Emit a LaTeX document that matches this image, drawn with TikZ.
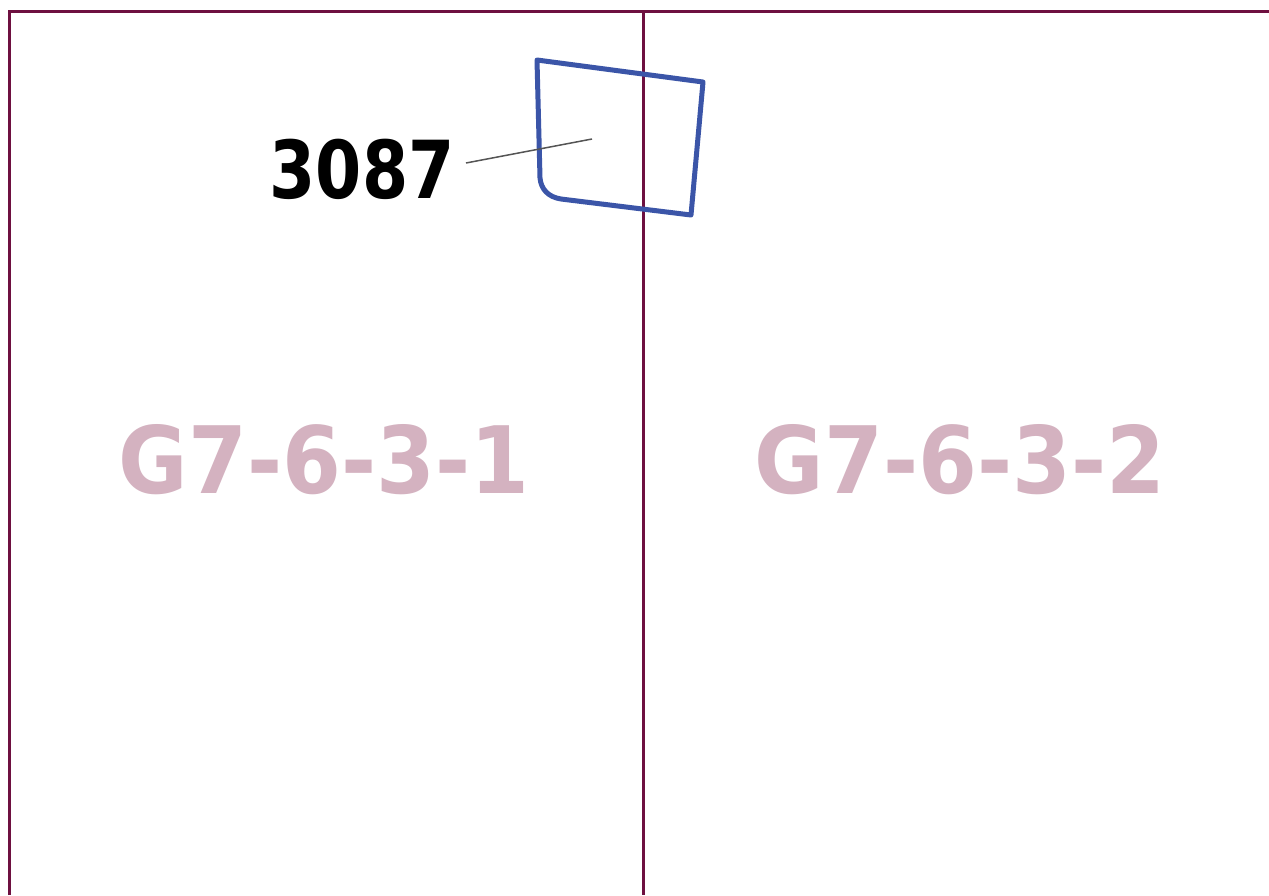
\documentclass[tikz,border=0pt]{standalone}
\usepackage{fontspec}
\setmainfont{DejaVu Sans}
\begin{document}
\begin{tikzpicture}[x=1pt,y=-1pt,
  frame/.style={draw=framecol,line width=3pt},
  plot/.style={draw=plotblue,line width=5pt,line join=round},
  roomlabel/.style={text=labelpink,font=\bfseries\fontsize{93}{93}\selectfont,anchor=base,inner sep=0pt,transform shape,xscale=0.91},
  numlabel/.style={text=black,font=\bfseries\fontsize{80}{80}\selectfont,anchor=base,inner sep=0pt,transform shape,xscale=0.83},
  leader/.style={draw=leadergray,line width=1.5pt}]
\definecolor{framecol}{HTML}{6E1040}
\definecolor{plotblue}{HTML}{3B55A8}
\definecolor{labelpink}{HTML}{D4B2C0}
\definecolor{leadergray}{HTML}{555555}
\useasboundingbox (0,0) rectangle (1269,895);
\fill[white] (0,0) rectangle (1269,895);
% frame lines
\coordinate (tl) at (9,11.5);
\coordinate (tr) at (1269,11.5);
\coordinate (bl) at (9,895);
\coordinate (mt) at (643,11.5);
\coordinate (mb) at (643,895);
\draw[frame] (bl) -- (tl) -- (tr);
\draw[frame] (mt) -- (mb);
% room labels
\node[roomlabel] (r1) at (324,493) {G7-6-3-1};
\node[roomlabel] (r2) at (960,493) {G7-6-3-2};
% blue parcel
\draw[plot] (537,60) -- (703,82) -- (691,215) -- (561,199)
  .. controls (548,197) and (541,189) .. (540,178) -- cycle;
% label and leader
\node[numlabel] (n) at (362,198) {3087};
\coordinate (p) at (592,139);
\coordinate (ls) at (466,163);
\draw[leader] (ls) -- (p);
\end{tikzpicture}
\end{document}
